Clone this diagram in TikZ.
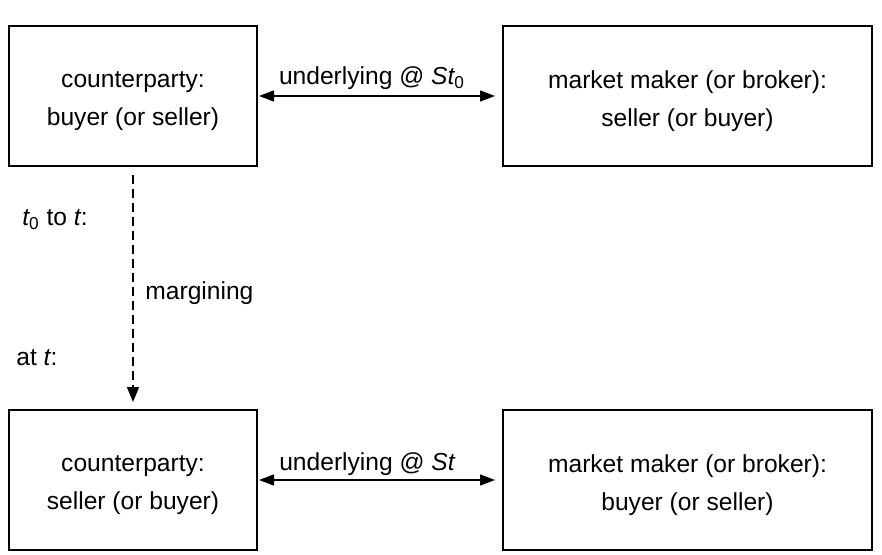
\documentclass[tikz,border=0pt]{standalone}
\usepackage{fontspec}
\setmainfont{Liberation Sans}
\usetikzlibrary{arrows.meta}
\begin{document}
\begin{tikzpicture}[x=0.5pt,y=-0.5pt,
  box/.style={draw,line width=1pt,inner sep=0pt},
  boxtext/.style={inner sep=0pt,align=center,font=\fontsize{12.3}{19}\selectfont},
  lbl/.style={inner sep=0pt,font=\fontsize{12.3}{15}\selectfont},
  dbl/.style={line width=0.8pt,{Triangle[length=7.5pt,width=5.5pt]}-{Triangle[length=7.5pt,width=5.5pt]}},
  dash arrow/.style={line width=0.8pt,dash pattern=on 4.5pt off 2.5pt,-{Triangle[length=7.5pt,width=6pt]}}]
\useasboundingbox (0,0) rectangle (882,555);
\node[box,minimum width=124pt,minimum height=70pt] (b1) at (133,96) {};
\node[box,minimum width=184.5pt,minimum height=70pt] (b2) at (687.5,96) {};
\node[box,minimum width=124pt,minimum height=70pt] (b3) at (133,480) {};
\node[box,minimum width=184.5pt,minimum height=70pt] (b4) at (687.5,480) {};
\node[boxtext] (t1) at ([yshift=-2.5pt]b1.center) {counterparty:\\buyer (or seller)};
\node[boxtext] (t2) at ([yshift=-2.5pt]b2.center) {market maker (or broker):\\seller (or buyer)};
\node[boxtext] (t3) at ([yshift=-2.5pt]b3.center) {counterparty:\\seller (or buyer)};
\node[boxtext] (t4) at ([yshift=-2.5pt]b4.center) {market maker (or broker):\\buyer (or seller)};
\draw[dbl,shorten >=3.5pt,shorten <=0.5pt] (b1.east) -- (b2.west);
\draw[dbl,shorten >=3.5pt,shorten <=0.5pt] (b3.east) -- (b4.west);
\node[lbl] (u1) at (372,78) {underlying @ {\itshape St}\textsubscript{0}};
\node[lbl] (u2) at (367,464) {underlying @ {\itshape St}};
\draw[dash arrow,shorten <=4pt,shorten >=3.5pt] (b1.south) -- (b3.north);
\node[lbl,anchor=west] (l1) at (22,220) {{\itshape t}\textsubscript{0} to {\itshape t}:};
\node[lbl,anchor=west] (l2) at (145,293) {margining};
\node[lbl,anchor=west] (l3) at (16,358) {at {\itshape t}:};
\end{tikzpicture}
\end{document}
